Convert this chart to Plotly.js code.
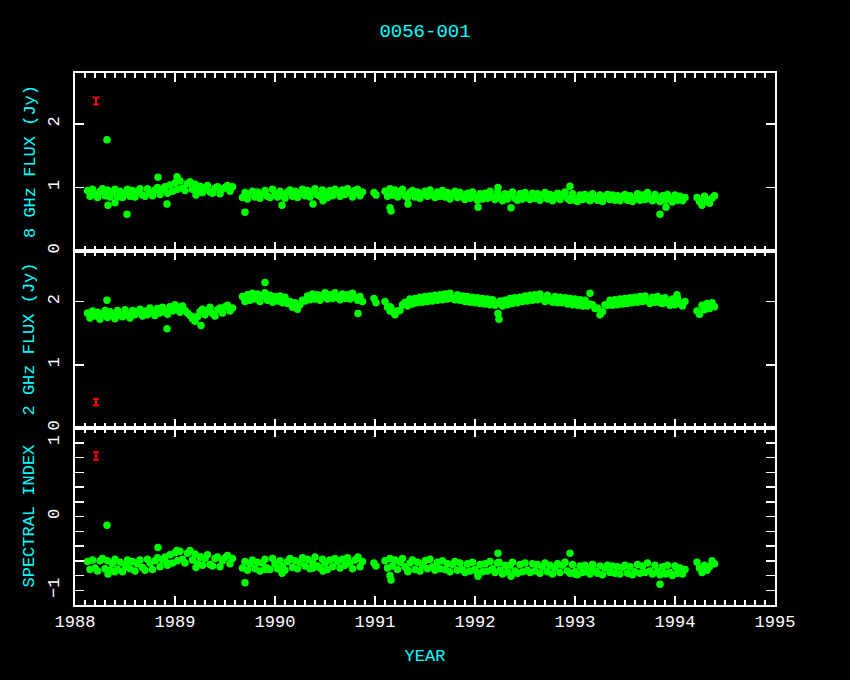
<!DOCTYPE html>
<html>
<head>
<meta charset="utf-8">
<script src="https://cdn.plot.ly/plotly-3.0.1.min.js"></script>
<style>html,body{margin:0;padding:0;background:#000;}#chart{width:850px;height:680px;}</style>
</head>
<body>
<div id="chart"></div>
<script>
// ---- data ----
const years = [
  // 1988.1 - 1989.6
  1988.125,1988.15,1988.175,1988.2,1988.225,1988.25,1988.275,1988.3,1988.325,1988.35,
  1988.375,1988.4,1988.425,1988.45,1988.475,1988.5,1988.525,1988.55,1988.575,1988.6,
  1988.625,1988.65,1988.675,1988.7,1988.725,1988.75,1988.775,1988.8,1988.825,1988.85,
  1988.875,1988.9,1988.925,1988.95,1988.975,1989.0,1989.025,1989.05,1989.075,1989.1,
  1989.125,1989.15,1989.175,1989.2,1989.225,1989.25,1989.275,1989.3,1989.325,1989.35,
  1989.375,1989.4,1989.425,1989.45,1989.475,1989.5,1989.525,1989.55,1989.575,
  // 1989.7 - 1990.9
  1989.675,1989.7,1989.725,1989.75,1989.775,1989.8,1989.825,1989.85,1989.875,1989.9,
  1989.925,1989.95,1989.975,1990.0,1990.025,1990.05,1990.075,1990.1,1990.125,1990.15,
  1990.175,1990.2,1990.225,1990.25,1990.275,1990.3,1990.325,1990.35,1990.375,1990.4,
  1990.425,1990.45,1990.475,1990.5,1990.525,1990.55,1990.575,1990.6,1990.625,1990.65,
  1990.675,1990.7,1990.725,1990.75,1990.775,1990.8,1990.825,1990.85,1990.875,
  // 1991.0
  1990.99,1991.01,
  // 1991.1 - 1994.1
  1991.1,1991.125,1991.15,1991.175,1991.2,1991.225,1991.25,1991.275,1991.3,1991.325,
  1991.35,1991.375,1991.4,1991.425,1991.45,1991.475,1991.5,1991.525,1991.55,1991.575,
  1991.6,1991.625,1991.65,1991.675,1991.7,1991.725,1991.75,1991.775,1991.8,1991.825,
  1991.85,1991.875,1991.9,1991.925,1991.95,1991.975,1992.0,1992.025,1992.05,1992.075,
  1992.1,1992.125,1992.15,1992.175,1992.2,1992.225,1992.25,1992.275,1992.3,1992.325,
  1992.35,1992.375,1992.4,1992.425,1992.45,1992.475,1992.5,1992.525,1992.55,1992.575,
  1992.6,1992.625,1992.65,1992.675,1992.7,1992.725,1992.75,1992.775,1992.8,1992.825,
  1992.85,1992.875,1992.9,1992.925,1992.95,1992.975,1993.0,1993.025,1993.05,1993.075,
  1993.1,1993.125,1993.15,1993.175,1993.2,1993.225,1993.25,1993.275,1993.3,1993.325,
  1993.35,1993.375,1993.4,1993.425,1993.45,1993.475,1993.5,1993.525,1993.55,1993.575,
  1993.6,1993.625,1993.65,1993.675,1993.7,1993.725,1993.75,1993.775,1993.8,1993.825,
  1993.85,1993.875,1993.9,1993.925,1993.95,1993.975,1994.0,1994.025,1994.05,1994.075,
  1994.1,
  // 1994.2 - 1994.4
  1994.22,1994.245,1994.27,1994.295,1994.32,1994.345,1994.37,1994.395,
  // isolated points
  1988.32,1988.33,1988.40,1988.52,1988.83,1988.92,1989.02,1989.21,1989.26,1989.70,
  1989.90,1990.07,1990.38,1990.48,1990.83,1991.15,1991.16,1991.33,1992.03,1992.23,
  1992.24,1992.36,1992.95,1993.00,1993.15,1993.85,1993.91,1994.02
];

const flux8 = [
  0.95,0.86,0.97,0.88,0.84,0.94,0.98,0.87,0.96,0.85,
  0.93,0.97,0.85,0.94,0.84,0.91,0.97,0.86,0.95,0.85,
  0.93,0.98,0.88,0.86,0.98,0.93,0.87,0.96,1.00,0.89,
  0.97,1.01,0.91,1.04,0.94,1.07,0.97,1.10,0.99,0.95,
  1.06,1.09,0.97,1.05,0.94,1.02,0.92,1.00,1.03,0.93,
  0.91,0.99,1.01,0.90,0.97,1.00,1.03,0.94,1.01,
  0.84,0.92,0.82,0.90,0.94,0.85,0.93,0.83,0.91,0.95,
  0.86,0.84,0.97,0.89,0.85,0.94,0.87,0.83,0.93,0.96,
  0.86,0.94,0.84,0.91,0.97,0.87,0.95,0.85,0.93,0.98,
  0.88,0.86,0.96,0.92,0.84,0.95,0.87,0.97,0.93,0.86,
  0.96,0.89,0.98,0.92,0.85,0.95,0.97,0.87,0.93,
  0.92,0.88,
  0.94,0.86,0.98,0.88,0.96,0.85,0.93,0.97,0.87,0.84,
  0.92,0.95,0.85,0.93,0.83,0.90,0.94,0.86,0.96,0.88,
  0.84,0.93,0.86,0.95,0.85,0.92,0.82,0.90,0.94,0.84,
  0.92,0.85,0.81,0.91,0.83,0.93,0.84,0.80,0.90,0.82,
  0.91,0.83,0.94,0.85,0.81,0.92,0.84,0.79,0.90,0.82,
  0.89,0.93,0.83,0.80,0.90,0.82,0.92,0.84,0.81,0.91,
  0.83,0.90,0.80,0.88,0.92,0.82,0.89,0.79,0.87,0.91,
  0.81,0.89,0.93,0.83,0.80,0.90,0.82,0.78,0.88,0.81,
  0.89,0.82,0.79,0.90,0.83,0.80,0.88,0.78,0.86,0.89,
  0.81,0.88,0.80,0.87,0.79,0.86,0.89,0.80,0.87,0.78,
  0.82,0.90,0.80,0.88,0.81,0.92,0.83,0.79,0.89,0.82,
  0.78,0.87,0.80,0.89,0.81,0.77,0.88,0.80,0.86,0.79,
  0.84,
  0.84,0.78,0.72,0.86,0.80,0.75,0.83,0.87,
  1.75,0.72,0.76,0.58,1.16,0.74,1.17,0.88,0.93,0.61,
  0.93,0.72,0.74,0.79,0.90,0.68,0.63,0.74,0.69,1.00,
  0.85,0.68,1.02,0.80,0.86,0.58,0.69,0.86
];

const flux2 = [
  1.82,1.74,1.85,1.77,1.83,1.72,1.80,1.86,1.75,1.84,
  1.78,1.73,1.86,1.79,1.76,1.87,1.80,1.74,1.86,1.79,
  1.84,1.88,1.77,1.85,1.79,1.90,1.83,1.78,1.89,1.82,
  1.91,1.84,1.80,1.92,1.85,1.95,1.87,1.83,1.93,1.86,
  1.82,1.78,1.73,1.69,1.76,1.84,1.88,1.79,1.85,1.91,
  1.81,1.77,1.87,1.90,1.82,1.92,1.94,1.85,1.90,
  2.08,2.00,2.11,2.02,2.13,2.04,2.12,2.00,2.09,2.14,
  2.02,2.10,1.99,2.08,2.01,2.09,1.98,2.07,1.97,2.00,
  1.91,1.98,1.88,1.95,2.02,2.01,2.09,2.03,2.12,2.04,
  2.11,2.02,2.10,2.14,2.04,2.11,2.05,2.14,2.07,2.03,
  2.12,2.05,2.11,2.04,2.13,2.07,2.02,2.08,2.00,
  2.05,1.98,
  2.00,1.91,1.92,1.84,1.79,1.85,1.86,1.95,1.99,1.93,
  2.04,1.96,2.05,1.98,2.07,1.99,2.08,2.00,2.09,2.01,
  2.10,2.02,2.11,2.03,2.12,2.04,2.13,2.05,2.03,2.11,
  2.02,2.09,2.00,2.08,1.99,2.07,1.98,2.06,1.97,2.05,
  1.96,2.04,1.95,2.03,1.94,1.97,2.01,1.93,2.02,1.95,
  2.05,1.97,2.06,1.98,2.07,2.00,2.09,2.01,2.10,2.02,
  2.11,2.03,2.12,2.04,2.00,2.10,2.02,1.99,2.08,1.98,
  2.07,1.98,2.06,1.96,2.05,1.95,2.04,1.94,2.03,1.93,
  2.02,1.93,1.96,1.95,1.89,1.90,1.79,1.84,1.95,1.94,
  2.02,1.94,2.03,1.95,2.04,1.96,2.05,1.97,2.06,1.98,
  2.07,1.99,2.08,2.00,2.09,2.01,1.97,2.07,1.99,2.08,
  2.05,1.97,2.06,1.98,1.94,2.04,1.95,2.05,1.97,1.93,
  2.00,
  1.85,1.80,1.94,1.87,1.97,1.89,1.98,1.92,
  2.02,1.80,1.79,1.79,1.86,1.57,1.92,1.76,1.62,2.04,
  2.30,2.02,2.05,2.08,1.81,1.85,1.90,1.98,2.01,1.81,
  1.72,1.97,2.03,1.99,2.13,1.98,2.00,2.11
];

const specIndex = [
  -0.61,-0.72,-0.59,-0.70,-0.74,-0.60,-0.57,-0.71,-0.60,-0.73,
  -0.64,-0.58,-0.72,-0.62,-0.75,-0.66,-0.59,-0.71,-0.61,-0.74,
  -0.64,-0.59,-0.69,-0.73,-0.58,-0.63,-0.72,-0.60,-0.56,-0.68,
  -0.59,-0.55,-0.66,-0.52,-0.63,-0.49,-0.60,-0.47,-0.58,-0.63,
  -0.50,-0.46,-0.59,-0.51,-0.64,-0.55,-0.66,-0.57,-0.52,-0.65,
  -0.67,-0.57,-0.55,-0.68,-0.60,-0.56,-0.53,-0.64,-0.57,
  -0.70,-0.61,-0.73,-0.64,-0.59,-0.71,-0.62,-0.74,-0.63,-0.58,
  -0.70,-0.72,-0.57,-0.64,-0.71,-0.60,-0.68,-0.73,-0.61,-0.57,
  -0.69,-0.60,-0.71,-0.62,-0.56,-0.67,-0.58,-0.71,-0.62,-0.55,
  -0.67,-0.70,-0.58,-0.63,-0.72,-0.59,-0.68,-0.57,-0.61,-0.70,
  -0.58,-0.66,-0.56,-0.63,-0.71,-0.59,-0.57,-0.68,-0.61,
  -0.63,-0.67,
  -0.60,-0.70,-0.57,-0.67,-0.59,-0.72,-0.62,-0.57,-0.68,-0.73,
  -0.63,-0.59,-0.72,-0.62,-0.74,-0.66,-0.60,-0.71,-0.58,-0.68,
  -0.73,-0.62,-0.71,-0.60,-0.72,-0.64,-0.75,-0.65,-0.61,-0.73,
  -0.63,-0.72,-0.76,-0.64,-0.74,-0.62,-0.72,-0.77,-0.65,-0.75,
  -0.64,-0.74,-0.61,-0.71,-0.76,-0.63,-0.73,-0.78,-0.66,-0.75,
  -0.66,-0.62,-0.74,-0.77,-0.65,-0.75,-0.63,-0.73,-0.76,-0.64,
  -0.74,-0.65,-0.77,-0.68,-0.63,-0.75,-0.66,-0.78,-0.69,-0.64,
  -0.76,-0.66,-0.62,-0.74,-0.77,-0.65,-0.75,-0.79,-0.67,-0.76,
  -0.66,-0.75,-0.78,-0.65,-0.74,-0.77,-0.67,-0.79,-0.70,-0.66,
  -0.76,-0.67,-0.77,-0.68,-0.78,-0.69,-0.66,-0.77,-0.68,-0.79,
  -0.75,-0.65,-0.77,-0.67,-0.76,-0.63,-0.74,-0.78,-0.66,-0.75,
  -0.79,-0.68,-0.77,-0.66,-0.76,-0.80,-0.67,-0.77,-0.70,-0.78,
  -0.72,
  -0.62,-0.70,-0.76,-0.66,-0.73,-0.68,-0.60,-0.64,
  -0.12,-0.78,-0.75,-0.68,-0.42,-0.63,-0.46,-0.69,-0.55,-0.90,
  -0.72,-0.77,-0.70,-0.74,-0.55,-0.80,-0.86,-0.75,-0.81,-0.50,
  -0.62,-0.81,-0.50,-0.78,-0.71,-0.92,-0.78,-0.70
];

// typical error bars (red markers, top-left of each panel)
const errYear = [1988.21];
const err8Value = [2.36], err8Size = [0.055];
const err2Value = [0.41], err2Size = [0.05];
const errSIValue = [0.82], errSISize = [0.05];

const xTickVals = [1988, 1989, 1990, 1991, 1992, 1993, 1994, 1995];
const panelTitles = ['8 GHz FLUX (Jy)', '2 GHz FLUX (Jy)', 'SPECTRAL INDEX'];

// ---- styling ----
const FONT = 'Liberation Mono, DejaVu Sans Mono, monospace';
const CYAN = '#00ffff';
const GREEN = '#00ff00';
const DOM3 = [0, 0.3327], DOM2 = [0.3327, 0.6654], DOM1 = [0.6654, 1];

const pts = (y, xa, ya) => ({
  x: years, y: y, xaxis: xa, yaxis: ya, type: 'scatter', mode: 'markers',
  marker: {color: GREEN, size: 7.5}, hoverinfo: 'skip'
});
const err = (v, s, xa, ya) => ({
  x: errYear, y: v, xaxis: xa, yaxis: ya, type: 'scatter', mode: 'markers',
  marker: {color: 'red', size: 1},
  error_y: {type: 'data', array: s, visible: true, color: 'red', thickness: 2, width: 3},
  hoverinfo: 'skip'
});

const data = [
  pts(flux8, 'x3', 'y3'), err(err8Value, err8Size, 'x3', 'y3'),
  pts(flux2, 'x2', 'y2'), err(err2Value, err2Size, 'x2', 'y2'),
  pts(specIndex, 'x', 'y'), err(errSIValue, errSISize, 'x', 'y')
];

const xBase = (anchor, labels) => ({
  anchor: anchor, domain: [0, 1], range: [1988, 1995],
  tickmode: 'array', tickvals: xTickVals, showticklabels: labels,
  ticks: 'inside', ticklen: 9, tickwidth: 1.5, tickcolor: 'white',
  minor: {dtick: 0.1, tick0: 1988, ticks: 'inside', ticklen: 5, tickwidth: 1.5, tickcolor: 'white'},
  showline: true, linecolor: 'white', linewidth: 2, mirror: 'allticks',
  showgrid: false, zeroline: false,
  tickfont: {family: FONT, size: 17, color: 'white'}
});

const yBase = (domain, range, minor) => {
  const a = {
    domain: domain, range: range, dtick: 1, tick0: 0,
    ticks: 'inside', ticklen: 9, tickwidth: 1.5, tickcolor: 'white',
    showline: true, linecolor: 'white', linewidth: 2, mirror: 'allticks',
    showgrid: false, zeroline: false, tickangle: -90, ticklabelstandoff: 7,
    tickfont: {family: FONT, size: 17, color: 'white'}
  };
  if (minor) a.minor = {dtick: 0.2, ticks: 'inside', ticklen: 9, tickwidth: 1.5, tickcolor: 'white'};
  return a;
};

const yTitle = (text, dom) => ({
  text: text, xref: 'paper', yref: 'paper', x: 0, y: (dom[0] + dom[1]) / 2,
  xshift: -45, xanchor: 'center', yanchor: 'middle', textangle: -90, showarrow: false,
  font: {family: FONT, size: 17, color: CYAN}
});

const layout = {
  width: 850, height: 680,
  paper_bgcolor: 'black', plot_bgcolor: 'black',
  margin: {l: 75, r: 75, t: 73, b: 75},
  showlegend: false,
  title: {text: '0056-001', font: {family: FONT, size: 19, color: CYAN}, x: 0.5, xanchor: 'center', y: 0.955, yanchor: 'middle'},
  xaxis: Object.assign(xBase('y', true), {title: {text: 'YEAR', font: {family: FONT, size: 17, color: CYAN}, standoff: 18}}),
  xaxis2: Object.assign(xBase('y2', false), {matches: 'x'}),
  xaxis3: Object.assign(xBase('y3', false), {matches: 'x'}),
  yaxis: yBase(DOM3, [-1.2, 1.2], true),
  yaxis2: yBase(DOM2, [0, 2.8], false),
  yaxis3: yBase(DOM1, [0, 2.8], false),
  annotations: [
    yTitle(panelTitles[0], DOM1),
    yTitle(panelTitles[1], DOM2),
    yTitle(panelTitles[2], DOM3)
  ]
};

Plotly.newPlot('chart', data, layout, {displayModeBar: false, staticPlot: true});
</script>
</body>
</html>
